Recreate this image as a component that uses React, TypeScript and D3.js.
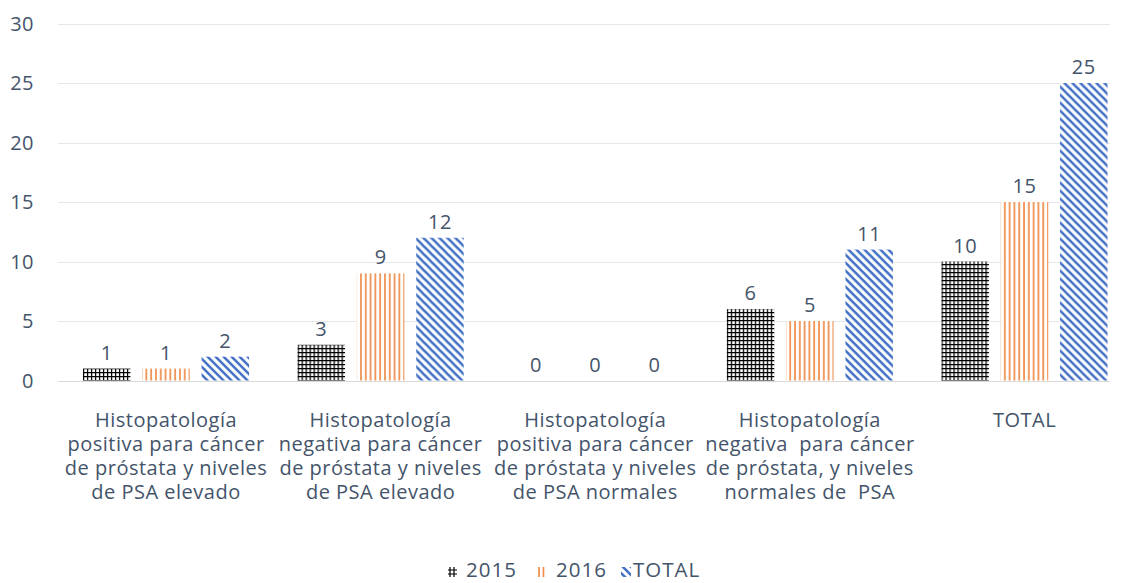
import React from "react";
import * as d3 from "d3";

const categories = ["c1", "c2", "c3", "c4", "c5"];
const categoryLabels: string[][] = [
  ["Histopatología", "positiva para cáncer", "de próstata y niveles", "de PSA elevado"],
  ["Histopatología", "negativa para cáncer", "de próstata y niveles", "de PSA elevado"],
  ["Histopatología", "positiva para cáncer", "de próstata y niveles", "de PSA normales"],
  ["Histopatología", "negativa  para cáncer", "de próstata, y niveles", "normales de  PSA"],
  ["TOTAL"],
];
const seriesNames = ["2015", "2016", "TOTAL"];
const values2015 = [1, 3, 0, 6, 10];
const values2016 = [1, 9, 0, 5, 15];
const valuesTotal = [2, 12, 0, 11, 25];
const yTicks = [0, 5, 10, 15, 20, 25, 30];

const W = 1122;
const H = 583;
const TEXT = "#44546A";
const FONT = "'Open Sans', 'Noto Sans', sans-serif";
const FS = 20;
const LS = 0.5;

export default function App() {
  const series = [values2015, values2016, valuesTotal];
  const y = d3.scaleLinear().domain([0, 30]).range([380.5, 23.5]);
  const x0 = d3
    .scaleBand<string>()
    .domain(categories)
    .range([58.7, 1131.8])
    .paddingInner(0.226)
    .paddingOuter(0.113);
  const x1 = d3
    .scaleBand<string>()
    .domain(seriesNames)
    .range([0, x0.bandwidth()])
    .paddingInner(0.2);
  const fills = ["url(#p2015)", "url(#p2016)", "url(#pTotal)"];
  const gridX1 = 58;
  const gridX2 = 1110;

  const legendItems = [
    { name: "2015", fill: "url(#p2015l)", x: 448, w: 9, tx: 466 },
    { name: "2016", fill: "url(#p2016l)", x: 538, w: 8, tx: 556 },
    { name: "TOTAL", fill: "url(#pTotall)", x: 621, w: 10, tx: 633 },
  ];

  return (
    <svg
      width={W}
      height={H}
      style={{ position: "absolute", left: 0, top: 0, background: "#fff" }}
      fontFamily={FONT}
    >
      <defs>
        <pattern id="p2015" width={4} height={4} patternUnits="userSpaceOnUse">
          <rect width={4} height={4} fill="#fff" />
          <path d="M0,0.6 H4 M0.6,0 V4" stroke="#000" strokeWidth={1.3} />
        </pattern>
        <pattern id="p2016" width={4.8} height={4} patternUnits="userSpaceOnUse">
          <rect width={4.8} height={4} fill="#fff" />
          <path d="M1,0 V4" stroke="#ED7D31" strokeWidth={1.5} />
        </pattern>
        <pattern id="pTotal" width={8} height={8} patternUnits="userSpaceOnUse">
          <rect width={8} height={8} fill="#fff" />
          <path d="M-2,6 L2,10 M0,0 L8,8 M6,-2 L10,2" stroke="#4472C4" strokeWidth={2.6} />
        </pattern>
        <pattern id="p2015l" width={4} height={4} patternUnits="userSpaceOnUse" x={449} y={569}>
          <rect width={4} height={4} fill="#fff" />
          <path d="M0,1 H4 M1,0 V4" stroke="#000" strokeWidth={1.2} />
        </pattern>
        <pattern id="p2016l" width={4.5} height={4} patternUnits="userSpaceOnUse" x={538}>
          <rect width={4.5} height={4} fill="#fff" />
          <path d="M1,0 V4" stroke="#ED7D31" strokeWidth={1.5} />
        </pattern>
        <pattern id="pTotall" width={8} height={8} patternUnits="userSpaceOnUse">
          <rect width={8} height={8} fill="#fff" />
          <path d="M-2,6 L2,10 M0,0 L8,8 M6,-2 L10,2" stroke="#4472C4" strokeWidth={2.6} />
        </pattern>
      </defs>

      {/* grid */}
      {yTicks.map((t) => (
        <g key={t}>
          <line
            x1={gridX1}
            x2={gridX2}
            y1={Math.round(y(t)) + 0.5}
            y2={Math.round(y(t)) + 0.5}
            stroke={t === 0 ? "#d9d9d9" : "#e4e7ec"}
            strokeWidth={1}
          />
          <text
            x={34}
            y={y(t) + 7}
            textAnchor="end"
            fontSize={FS}
            letterSpacing={LS}
            fill={TEXT}
          >
            {t}
          </text>
        </g>
      ))}

      {/* bars */}
      {categories.map((c, ci) => (
        <g key={c} transform={`translate(${x0(c)},0)`}>
          {seriesNames.map((s, si) => {
            const v = series[si][ci];
            const bx = x1(s)!;
            const top = y(v);
            return (
              <g key={s}>
                {v > 0 && (
                  <rect
                    x={bx}
                    y={top}
                    width={x1.bandwidth()}
                    height={y(0) - top}
                    fill={fills[si]}
                  />
                )}
                <text
                  x={bx + x1.bandwidth() / 2}
                  y={top - 9}
                  textAnchor="middle"
                  fontSize={FS}
                  letterSpacing={LS}
                  fill={TEXT}
                >
                  {v}
                </text>
              </g>
            );
          })}
        </g>
      ))}

      {/* category labels */}
      {categories.map((c, ci) => (
        <text
          key={c}
          x={x0(c)! + x0.bandwidth() / 2}
          y={427}
          textAnchor="middle"
          fontSize={FS}
          letterSpacing={LS}
          fill={TEXT}
          style={{ whiteSpace: "pre" }}
        >
          {categoryLabels[ci].map((line, li) => (
            <tspan key={li} x={x0(c)! + x0.bandwidth() / 2} dy={li === 0 ? 0 : 24}>
              {line}
            </tspan>
          ))}
        </text>
      ))}

      {/* legend */}
      {legendItems.map((it) => (
        <g key={it.name}>
          <rect x={it.x} y={567} width={it.w} height={10} fill={it.fill} />
          <text x={it.tx} y={577} fontSize={20.5} letterSpacing={1} fill={TEXT}>
            {it.name}
          </text>
        </g>
      ))}
    </svg>
  );
}
